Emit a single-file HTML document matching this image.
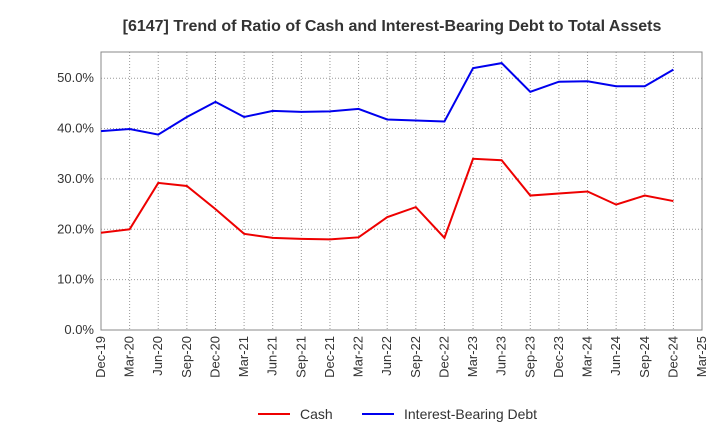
<!DOCTYPE html>
<html><head><meta charset="utf-8"><style>
body{margin:0;background:#fff;font-family:"Liberation Sans",sans-serif}
svg text{font-family:"Liberation Sans",sans-serif}
</style></head><body>
<svg id="c" width="720" height="440" xmlns="http://www.w3.org/2000/svg">
<text x="392" y="31" text-anchor="middle" font-size="16" font-weight="bold" fill="#333">[6147]  Trend of Ratio of Cash and Interest-Bearing Debt to Total Assets</text>
<g id="grid"></g><g id="axes"></g><g id="series"></g>
<g>
<line x1="258" y1="414" x2="290" y2="414" stroke="#e00" stroke-width="2"/>
<text x="300" y="419" font-size="14" fill="#333">Cash</text>
<line x1="362" y1="414" x2="394" y2="414" stroke="#00e" stroke-width="2"/>
<text x="404" y="419" font-size="14" fill="#333">Interest-Bearing Debt</text>
</g>
</svg>
<script>
const categories=["Dec-19","Mar-20","Jun-20","Sep-20","Dec-20","Mar-21","Jun-21","Sep-21","Dec-21","Mar-22","Jun-22","Sep-22","Dec-22","Mar-23","Jun-23","Sep-23","Dec-23","Mar-24","Jun-24","Sep-24","Dec-24","Mar-25"];
const cash=[19.3,20.0,29.2,28.6,24.0,19.1,18.3,18.1,18.0,18.4,22.4,24.4,18.3,34.0,33.7,26.7,27.1,27.5,24.9,26.7,25.6];
const debt=[39.5,39.9,38.8,42.3,45.3,42.3,43.5,43.3,43.4,43.9,41.8,41.6,41.4,52.0,53.0,47.3,49.3,49.4,48.4,48.4,51.7];
const yTicks=[0,10,20,30,40,50];
const X0=101,X1=702,Y0=330,YT=52,YMAX=55.2;
const xs=i=>X0+i*(X1-X0)/(categories.length-1);
const ys=v=>Y0-v/YMAX*(Y0-YT);
const NS="http://www.w3.org/2000/svg";
function mk(p,t,a){const e=document.createElementNS(NS,t);for(const k in a)e.setAttribute(k,a[k]);document.getElementById(p).appendChild(e);return e;}
categories.forEach((c,i)=>{
 const l=mk('grid','line',{x1:xs(i),x2:xs(i),y1:YT,y2:Y0,stroke:'#999','stroke-dasharray':'1,2'});
 
 
 const x=xs(i),t=mk('axes','text',{x:x+4,y:Y0+6,'font-size':13,fill:'#333','text-anchor':'end',transform:`rotate(-90 ${x+4} ${Y0+6})`});
 t.textContent=c;
 
 
});
yTicks.forEach(v=>{
 const l=mk('grid','line',{x1:X0,x2:X1,y1:ys(v),y2:ys(v),stroke:'#999','stroke-dasharray':'1,2'});
 
 
 const t=mk('axes','text',{x:X0-7,y:ys(v)+4,'font-size':13,fill:'#333','text-anchor':'end'});
 t.textContent=v.toFixed(1)+'%';
 
 
});
const r=mk('axes','rect',{x:X0,y:YT,width:X1-X0,height:Y0-YT,fill:'none',stroke:'#888'});


[[cash,'#e00','cash-line'],[debt,'#00e','debt-line']].forEach(([d,c,n])=>{
 const p=mk('series','polyline',{points:d.map((v,i)=>xs(i)+','+ys(v)).join(' '),fill:'none',stroke:c,'stroke-width':2});
 
 
});
</script>
</body></html>
